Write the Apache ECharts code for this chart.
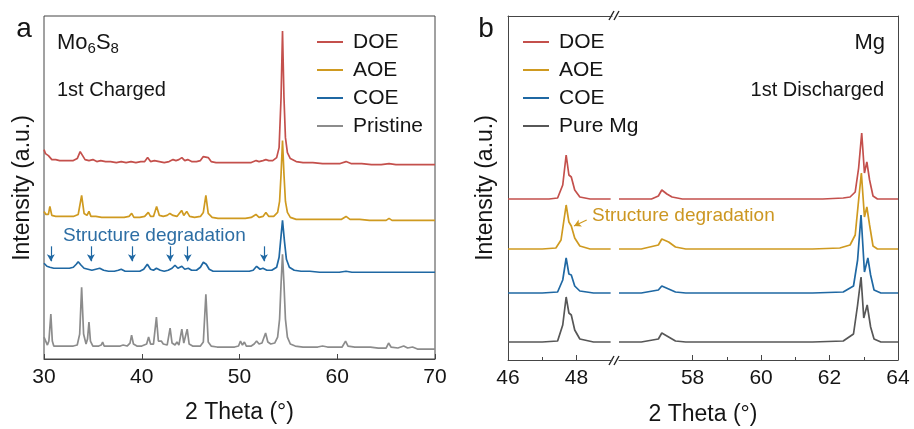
<!DOCTYPE html>
<html>
<head>
<meta charset="utf-8">
<script src="https://cdn.jsdelivr.net/npm/echarts@6/dist/echarts.min.js"></script>
<style>
  html, body { margin: 0; padding: 0; background: #fff; }
  #chart { width: 914px; height: 429px; }
</style>
</head>
<body>
<div id="chart"></div>
<script>
// ---------------- DATA ----------------
// Panel a: Mo6S8, 1st Charged (2-theta, stacked intensity a.u.)
const panelA_names = ['DOE', 'AOE', 'COE', 'Pristine'];
const panelA_DOE = [[30.0,210],[30.15,206],[30.3,207],[30.45,204],[30.6,203],[30.8,200],[31.2,200],[31.6,199],[32.0,199],[32.5,199],[33.0,199],[33.4,201],[33.7,208],[33.9,207],[34.2,200],[34.6,199],[35.0,200],[35.4,198],[35.8,199],[36.3,198],[36.8,198],[37.4,197],[37.9,198],[38.4,197],[38.9,198],[39.4,197],[39.9,198],[40.3,198],[40.6,202],[40.9,198],[41.3,199],[41.5,201],[41.8,198],[42.3,197],[42.8,198],[43.2,200],[43.5,199],[43.8,200],[44.1,202],[44.4,199],[44.7,200],[45.1,198],[45.6,198],[46.0,199],[46.3,203],[46.5,205],[46.8,202],[47.1,198],[47.6,197],[48.2,197],[48.8,197],[49.4,197],[50.0,197],[50.6,197],[51.2,197],[51.7,199],[52.0,198],[52.4,199],[52.7,200],[53.0,199],[53.4,199],[53.8,202],[54.05,212],[54.25,262],[54.4,329],[54.55,262],[54.7,222],[54.9,207],[55.2,201],[55.8,198],[56.5,197],[57.5,197],[58.5,196],[59.5,196],[60.3,196],[60.9,198],[61.4,196],[62.5,196],[63.5,195],[64.5,195],[65.3,196],[66.0,195],[67.0,195],[68.0,195],[69.0,195],[70.0,195]];
const panelA_AOE = [[30.0,148],[30.2,145],[30.45,145],[30.6,153],[30.8,144],[31.2,143],[31.8,143],[32.4,143],[33.0,143],[33.5,145],[33.85,164],[34.1,146],[34.4,144],[34.6,148],[34.8,143],[35.3,143],[35.9,142],[36.1,144],[36.4,142],[37.0,142],[37.6,142],[38.2,142],[38.7,143],[38.97,146],[39.2,142],[39.8,142],[40.3,143],[40.67,147],[40.9,143],[41.2,143],[41.52,153],[41.8,144],[42.2,143],[42.6,144],[42.88,146],[43.2,144],[43.6,143],[44.08,149],[44.3,144],[44.6,148],[44.9,143],[45.4,142],[46.0,143],[46.3,147],[46.56,164],[46.8,146],[47.2,142],[47.8,141],[48.5,141],[49.2,141],[50.0,141],[50.6,141],[51.2,142],[51.68,145],[52.0,142],[52.4,143],[52.7,147],[53.0,143],[53.5,143],[53.9,147],[54.1,158],[54.25,185],[54.4,219],[54.55,185],[54.7,158],[54.9,147],[55.2,142],[55.8,140],[56.5,140],[57.5,140],[58.5,140],[59.5,140],[60.4,140],[60.9,143],[61.3,140],[62.3,140],[63.3,139],[64.3,139],[65.0,139],[65.3,141],[65.6,139],[66.5,139],[67.5,139],[68.5,139],[69.3,139],[70.0,139]];
const panelA_COE = [[30.0,96],[30.3,93],[30.6,92],[31.0,91],[31.5,91],[32.0,91],[32.6,91],[33.0,92],[33.3,95],[33.5,97.5],[33.8,94],[34.1,91],[34.5,90],[34.9,89],[35.3,90],[35.7,91],[36.1,89],[36.6,88],[37.2,88],[37.6,89],[37.9,90],[38.3,88],[38.8,88],[39.3,88],[39.8,88],[40.2,90],[40.57,95],[40.9,90],[41.2,89],[41.5,91],[41.9,89],[42.3,88],[42.7,89],[43.1,91],[43.4,94],[43.7,91],[44.1,93],[44.4,90],[44.76,91],[45.1,89],[45.6,89],[46.0,92],[46.3,97],[46.6,95],[46.9,90],[47.3,88],[48.0,88],[48.6,88],[49.2,88],[49.8,88],[50.4,88],[51.0,88],[51.4,89],[51.75,93],[52.1,90],[52.4,91],[52.8,89],[53.3,89],[53.8,92],[54.05,102],[54.2,118],[54.4,139],[54.6,118],[54.8,100],[55.1,92],[55.6,89],[56.3,88],[57.2,88],[58.2,87],[59.2,87],[60.2,87],[60.9,88],[61.5,87],[62.5,87],[63.5,87],[64.5,87],[65.5,87],[66.5,87],[67.5,87],[68.5,87],[69.5,87],[70.0,87]];
const panelA_Pristine = [[30.0,22],[30.15,20],[30.35,14],[30.5,18],[30.7,45],[30.85,18],[31.0,13],[31.5,13],[32.0,13],[32.5,13],[33.0,13],[33.4,14],[33.65,25],[33.85,72],[34.05,25],[34.3,15],[34.45,20],[34.6,37],[34.75,18],[35.0,13],[35.6,13],[35.85,14],[36.0,17],[36.15,13],[36.6,13],[37.2,13],[37.8,13],[38.1,14],[38.5,13],[38.8,16],[38.96,24],[39.15,15],[39.5,13],[40.0,13],[40.5,15],[40.7,22],[40.9,15],[41.2,15],[41.5,42],[41.7,18],[42.0,18],[42.2,15],[42.6,14],[42.9,31],[43.1,16],[43.4,14],[43.6,17],[43.8,14],[44.1,30],[44.3,16],[44.45,16],[44.65,30],[44.85,15],[45.2,13],[45.4,15],[45.6,13],[46.0,13],[46.3,17],[46.56,65],[46.8,17],[47.1,13],[47.7,12],[48.3,12],[48.9,12],[49.5,12],[49.9,13],[50.1,18],[50.3,14],[50.5,17],[50.7,13],[51.2,13],[51.5,15],[51.75,18],[52.0,15],[52.3,16],[52.67,26],[52.9,17],[53.2,15],[53.6,16],[53.9,22],[54.1,40],[54.25,75],[54.4,105],[54.55,75],[54.7,40],[54.9,22],[55.2,15],[55.7,13],[56.5,12],[57.3,12],[58.0,12],[58.5,13],[59.0,12],[59.8,12],[60.5,12],[60.85,18],[61.1,13],[61.8,12],[62.6,12],[63.4,12],[64.2,11],[65.0,11],[65.25,16],[65.5,12],[66.2,11],[66.8,13],[67.2,11],[67.7,12],[68.2,10],[69.0,10],[70.0,10]];
const panelA_arrowX = [30.7, 34.8, 39.0, 42.9, 44.7, 52.5];
const panelA_xTicks = [30, 40, 50, 60, 70];

// Panel b: Mg, 1st Discharged, broken axis (segment 1: 46-49, segment 2: 55.85-64)
const panelB_names = ['DOE', 'AOE', 'COE', 'Pure Mg'];
const panelB_DOE_seg1 = [[46.0,161],[46.4,161],[46.8,161],[47.2,161],[47.45,162],[47.6,175],[47.7,205],[47.78,185],[47.85,183],[47.95,170],[48.1,163],[48.4,161],[48.7,161],[49.0,161]];
const panelB_DOE_seg2 = [[55.85,161],[56.3,161],[56.8,161],[57.0,164],[57.1,170],[57.25,166],[57.4,163],[57.7,161],[58.2,161],[58.8,161],[59.5,161],[60.2,161],[61.0,161],[61.8,161],[62.4,162],[62.6,163],[62.75,168],[62.85,192],[62.94,227],[63.02,187],[63.09,198],[63.17,180],[63.27,164],[63.4,161],[64.0,161]];
const panelB_AOE_seg1 = [[46.0,111],[46.5,111],[47.0,111],[47.4,112],[47.55,120],[47.7,155],[47.78,138],[47.85,134],[47.95,122],[48.1,114],[48.4,111],[49.0,111]];
const panelB_AOE_seg2 = [[55.85,111],[56.5,111],[57.0,115],[57.1,121],[57.3,118],[57.5,113],[57.8,111],[58.5,111],[59.5,111],[60.5,111],[61.5,111],[62.3,112],[62.6,115],[62.75,125],[62.85,160],[62.93,187],[63.02,143],[63.09,153],[63.17,135],[63.27,114],[63.4,111],[64.0,111]];
const panelB_COE_seg1 = [[46.0,67],[46.5,67],[47.0,67],[47.45,68],[47.6,80],[47.7,102],[47.78,86],[47.85,85],[47.95,74],[48.1,69],[48.5,67],[49.0,67]];
const panelB_COE_seg2 = [[55.85,67],[56.5,67],[57.0,70],[57.1,74],[57.3,71],[57.5,68],[57.8,67],[58.5,67],[59.5,67],[60.5,67],[61.5,67],[62.4,68],[62.7,74],[62.82,100],[62.92,145],[63.02,88],[63.12,102],[63.2,85],[63.3,70],[63.5,67],[64.0,67]];
const panelB_Mg_seg1 = [[46.0,18],[46.5,18],[47.0,18],[47.45,19],[47.6,35],[47.7,63],[47.78,47],[47.85,45],[47.95,30],[48.1,21],[48.5,18],[49.0,18]];
const panelB_Mg_seg2 = [[55.85,18],[56.5,18],[57.0,21],[57.1,27],[57.3,23],[57.5,19],[57.8,18],[58.5,18],[59.5,18],[60.5,18],[61.5,18],[62.4,19],[62.7,26],[62.82,55],[62.92,83],[63.0,42],[63.1,55],[63.2,33],[63.3,21],[63.5,18],[64.0,18]];
const panelB_seg1Range = [46, 49.04];
const panelB_seg2Range = [55.85, 64];
const panelB_seg1Labels = [46, 48];
const panelB_seg1Minor = [47];
const panelB_seg2Labels = [58, 60, 62, 64];
const panelB_seg2Minor = [59, 61, 63];
const panelB_arrow = [[48.3, 140], [47.93, 134]];

// ---------------- STYLE ----------------
const FONT = '"Liberation Sans", Arial, Helvetica, sans-serif';
const C_RED = '#c4504c', C_YEL = '#cf9a20', C_BLU = '#1f68a3', C_GRY = '#8c8c8c', C_DGR = '#575757';
const FRAME = '#454545';
const TXT = '#151515';
const yRange = [0, 344];

const chart = echarts.init(document.getElementById('chart'), null, { renderer: 'canvas' });

function lineSeries(name, data, color, xi, yi, extra) {
  return Object.assign({
    type: 'line', name, data, xAxisIndex: xi, yAxisIndex: yi,
    symbol: 'none', smooth: false, silent: true, animation: false,
    lineStyle: { color, width: 1.7 }, itemStyle: { color }
  }, extra || {});
}

const hiddenY = (gi, pos, showLine) => ({
  type: 'value', gridIndex: gi, min: yRange[0], max: yRange[1], position: pos,
  axisLine: { show: showLine, lineStyle: { color: FRAME, width: 1 } },
  axisTick: { show: false }, axisLabel: { show: false }, splitLine: { show: false }
});

const blueArrows = panelA_arrowX.map(x => [{ coord: [x, 113] }, { coord: [x, 98] }]);

const legendBase = {
  orient: 'vertical', top: 28, icon: 'rect', itemWidth: 26, itemHeight: 2, itemGap: 0, padding: 0,
  selectedMode: false,
  textStyle: { fontSize: 21, lineHeight: 28, color: TXT, fontFamily: FONT, padding: [0, 0, 0, 5] }
};

const option = {
  animation: false,
  backgroundColor: '#ffffff',
  textStyle: { fontFamily: FONT },
  grid: [
    { left: 44, right: 479, top: 16, bottom: 69, show: true, borderColor: FRAME, borderWidth: 1, backgroundColor: 'transparent' },
    { left: 508, width: 104, top: 16, bottom: 69 },
    { left: 619, right: 16, top: 16, bottom: 69 }
  ],
  xAxis: [
    { type: 'value', gridIndex: 0, min: 30, max: 70, interval: 10, position: 'bottom',
      axisLine: { show: true, lineStyle: { color: FRAME } },
      axisTick: { show: true, inside: true, length: 5, lineStyle: { color: FRAME } },
      axisLabel: { fontSize: 21, color: TXT, margin: 8, fontFamily: FONT },
      splitLine: { show: false },
      name: '2 Theta (°)', nameLocation: 'middle', nameGap: 42,
      nameTextStyle: { fontSize: 23, color: TXT, fontFamily: FONT } },
    { type: 'value', gridIndex: 1, min: panelB_seg1Range[0], max: panelB_seg1Range[1], position: 'bottom',
      axisLine: { show: true, lineStyle: { color: FRAME } },
      axisTick: { show: true, inside: true, length: 5, customValues: panelB_seg1Labels, lineStyle: { color: FRAME } },
      axisLabel: { fontSize: 21, color: TXT, margin: 8, customValues: panelB_seg1Labels, fontFamily: FONT },
      splitLine: { show: false } },
    { type: 'value', gridIndex: 1, min: panelB_seg1Range[0], max: panelB_seg1Range[1], position: 'bottom',
      axisLine: { show: false },
      axisTick: { show: true, inside: true, length: 3, customValues: panelB_seg1Minor, lineStyle: { color: FRAME } },
      axisLabel: { show: false }, splitLine: { show: false } },
    { type: 'value', gridIndex: 1, min: panelB_seg1Range[0], max: panelB_seg1Range[1], position: 'top',
      axisLine: { show: true, lineStyle: { color: FRAME } },
      axisTick: { show: false }, axisLabel: { show: false }, splitLine: { show: false } },
    { type: 'value', gridIndex: 2, min: panelB_seg2Range[0], max: panelB_seg2Range[1], position: 'bottom',
      axisLine: { show: true, lineStyle: { color: FRAME } },
      axisTick: { show: true, inside: true, length: 5, customValues: panelB_seg2Labels, lineStyle: { color: FRAME } },
      axisLabel: { fontSize: 21, color: TXT, margin: 8, customValues: panelB_seg2Labels, fontFamily: FONT },
      splitLine: { show: false } },
    { type: 'value', gridIndex: 2, min: panelB_seg2Range[0], max: panelB_seg2Range[1], position: 'bottom',
      axisLine: { show: false },
      axisTick: { show: true, inside: true, length: 3, customValues: panelB_seg2Minor, lineStyle: { color: FRAME } },
      axisLabel: { show: false }, splitLine: { show: false } },
    { type: 'value', gridIndex: 2, min: panelB_seg2Range[0], max: panelB_seg2Range[1], position: 'top',
      axisLine: { show: true, lineStyle: { color: FRAME } },
      axisTick: { show: false }, axisLabel: { show: false }, splitLine: { show: false } }
  ],
  yAxis: [
    hiddenY(0, 'left', false),
    hiddenY(1, 'left', true),
    hiddenY(2, 'right', true)
  ],
  legend: [
    Object.assign({}, legendBase, { left: 317, data: panelA_names }),
    Object.assign({}, legendBase, { left: 523, data: panelB_names })
  ],
  series: [
    lineSeries('Pristine', panelA_Pristine, C_GRY, 0, 0),
    lineSeries('COE', panelA_COE, C_BLU, 0, 0, {
      markLine: { silent: true, symbol: ['none', 'arrow'], symbolSize: [6, 7], label: { show: false },
        lineStyle: { color: C_BLU, width: 1.2, type: 'solid' }, emphasis: { disabled: true },
        data: blueArrows }
    }),
    lineSeries('AOE', panelA_AOE, C_YEL, 0, 0),
    lineSeries('DOE', panelA_DOE, C_RED, 0, 0),

    lineSeries('Pure Mg', panelB_Mg_seg1, C_DGR, 1, 1),
    lineSeries('COE', panelB_COE_seg1, C_BLU, 1, 1),
    lineSeries('AOE', panelB_AOE_seg1, C_YEL, 1, 1, {
      markLine: { silent: true, symbol: ['none', 'arrow'], symbolSize: [6, 7], label: { show: false },
        lineStyle: { color: C_YEL, width: 1.2, type: 'solid' }, emphasis: { disabled: true },
        data: [[{ coord: panelB_arrow[0] }, { coord: panelB_arrow[1] }]] }
    }),
    lineSeries('DOE', panelB_DOE_seg1, C_RED, 1, 1),

    lineSeries('Pure Mg', panelB_Mg_seg2, C_DGR, 4, 2),
    lineSeries('COE', panelB_COE_seg2, C_BLU, 4, 2),
    lineSeries('AOE', panelB_AOE_seg2, C_YEL, 4, 2),
    lineSeries('DOE', panelB_DOE_seg2, C_RED, 4, 2)
  ],
  graphic: [
    { type: 'text', x: 24, y: 29, style: { text: 'a', fontSize: 28, fontFamily: FONT, fill: TXT, align: 'center', verticalAlign: 'middle' } },
    { type: 'text', x: 486, y: 29, style: { text: 'b', fontSize: 28, fontFamily: FONT, fill: TXT, align: 'center', verticalAlign: 'middle' } },
    { type: 'text', x: 23, y: 188, rotation: Math.PI / 2, style: { text: 'Intensity (a.u.)', fontSize: 23, fontFamily: FONT, fill: TXT, align: 'center', verticalAlign: 'middle' } },
    { type: 'text', x: 486, y: 188, rotation: Math.PI / 2, style: { text: 'Intensity (a.u.)', fontSize: 23, fontFamily: FONT, fill: TXT, align: 'center', verticalAlign: 'middle' } },
    { type: 'text', x: 703, y: 415, style: { text: '2 Theta (°)', fontSize: 23, fontFamily: FONT, fill: TXT, align: 'center', verticalAlign: 'middle' } },
    { type: 'text', x: 57, y: 43, style: { text: '{m|Mo}{s|6}{m|S}{s|8}', fontFamily: FONT, fill: TXT, align: 'left', verticalAlign: 'middle',
        rich: { m: { fontSize: 22, lineHeight: 26, fontFamily: FONT, fill: TXT }, s: { fontSize: 15, lineHeight: 14, verticalAlign: 'bottom', fontFamily: FONT, fill: TXT } } } },
    { type: 'text', x: 57, y: 90, style: { text: '1st Charged', fontSize: 20, fontFamily: FONT, fill: TXT, align: 'left', verticalAlign: 'middle' } },
    { type: 'text', x: 885, y: 43, style: { text: 'Mg', fontSize: 22, fontFamily: FONT, fill: TXT, align: 'right', verticalAlign: 'middle' } },
    { type: 'text', x: 884, y: 90, style: { text: '1st Discharged', fontSize: 20, fontFamily: FONT, fill: TXT, align: 'right', verticalAlign: 'middle' } },
    { type: 'text', x: 63, y: 236, style: { text: 'Structure degradation', fontSize: 19, fontFamily: FONT, fill: '#2d6ea4', align: 'left', verticalAlign: 'middle' } },
    { type: 'text', x: 592, y: 216, style: { text: 'Structure degradation', fontSize: 19, fontFamily: FONT, fill: '#cc9722', align: 'left', verticalAlign: 'middle' } },
    // axis break marks
    { type: 'line', shape: { x1: 609, y1: 20, x2: 614, y2: 11 }, style: { stroke: '#222', lineWidth: 1.4 } },
    { type: 'line', shape: { x1: 614, y1: 20, x2: 619, y2: 11 }, style: { stroke: '#222', lineWidth: 1.4 } },
    { type: 'line', shape: { x1: 609, y1: 365, x2: 614, y2: 356 }, style: { stroke: '#222', lineWidth: 1.4 } },
    { type: 'line', shape: { x1: 614, y1: 365, x2: 619, y2: 356 }, style: { stroke: '#222', lineWidth: 1.4 } }
  ]
};
chart.setOption(option);
</script>
</body>
</html>
